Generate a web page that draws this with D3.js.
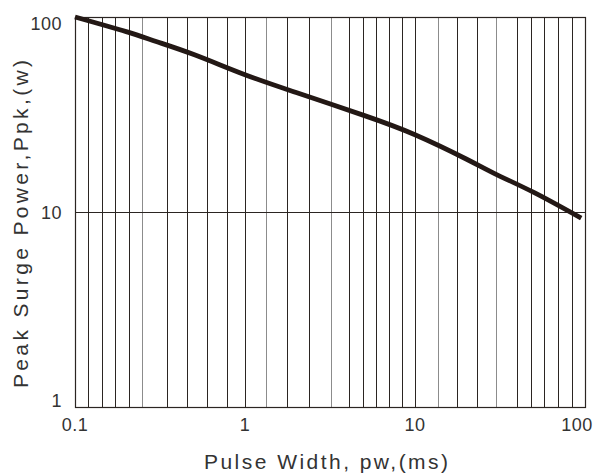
<!DOCTYPE html>
<html>
<head>
<meta charset="utf-8">
<script src="https://cdn.jsdelivr.net/npm/d3@7"></script>
<style>
body { margin: 0; background: #fff; }
text { font-family: "Liberation Sans", Arial, sans-serif; fill: #333; }
</style>
</head>
<body>
<div id="chart"></div>
<script>
// curve
var pulseWidth = [0.1, 0.2, 0.3, 0.5, 1, 2, 5, 10, 20, 30, 50, 95];
var peakPower = [100, 84.1, 74.9, 64.2, 50.6, 41, 31.3, 24.9, 18.7, 15.6, 12.6, 9.3];

// grid lines as drawn in the original (not a regular log grid)
var gridDark = [0.119, 0.144, 0.172, 0.207, 0.346, 0.454, 0.595, 0.78, 1, 1.77, 2.39,
    4.11, 4.93, 5.9, 7.03, 8.39, 10, 17.7, 23.1, 40, 48.1, 57.6, 69.7, 83.5];
var gridLight = [0.249, 1.33, 3.21, 13.6, 29.8];
var gridY = [10];

var xTicks = [0.1, 1, 10, 100];
var yTicks = [1, 10, 100];

var chartWidth = 594, chartHeight = 476;
var plotLeft = 75, plotRight = 585, plotTop = 17, plotBottom = 407;

var svg = d3.select("#chart").append("svg")
    .attr("width", chartWidth)
    .attr("height", chartHeight);

var x = d3.scaleLog().domain([0.1, 100]).range([plotLeft, plotRight]);
var y = d3.scaleLog().domain([1, 100]).range([plotBottom, plotTop]);

// vertical grid
svg.selectAll("line.gridDark")
    .data(gridDark).enter()
    .append("line")
    .attr("class", "gridDark")
    .attr("x1", (d) => Math.round(x(d)) + 0.5)
    .attr("x2", (d) => Math.round(x(d)) + 0.5)
    .attr("y1", plotTop)
    .attr("y2", plotBottom)
    .style("stroke", "#2b2522")
    .style("stroke-width", 1);
svg.selectAll("line.gridLight")
    .data(gridLight).enter()
    .append("line")
    .attr("class", "gridLight")
    .attr("x1", (d) => Math.round(x(d)) + 0.5)
    .attr("x2", (d) => Math.round(x(d)) + 0.5)
    .attr("y1", plotTop)
    .attr("y2", plotBottom)
    .style("stroke", "#8c8c8c")
    .style("stroke-width", 1);
// horizontal grid
svg.selectAll("line.gridY")
    .data(gridY).enter()
    .append("line")
    .attr("class", "gridY")
    .attr("x1", plotLeft)
    .attr("x2", plotRight)
    .attr("y1", (d) => Math.round(y(d)) + 0.5)
    .attr("y2", (d) => Math.round(y(d)) + 0.5)
    .style("stroke", "#2b2522")
    .style("stroke-width", 1);

// frame
svg.append("rect")
    .attr("x", plotLeft + 0.5)
    .attr("y", plotTop + 0.5)
    .attr("width", plotRight - plotLeft)
    .attr("height", plotBottom - plotTop)
    .style("fill", "none")
    .style("stroke", "#2b2522")
    .style("stroke-width", 1.2);

// curve
var line = d3.line()
    .x((d, i) => x(pulseWidth[i]))
    .y((d) => y(d))
    .curve(d3.curveNatural);
svg.append("path")
    .attr("d", line(peakPower))
    .style("fill", "none")
    .style("stroke", "#231815")
    .style("stroke-width", 4.8)
    .style("stroke-linecap", "butt");

// tick labels
svg.selectAll("text.xtick")
    .data(xTicks).enter()
    .append("text")
    .attr("class", "xtick")
    .text((d) => d)
    .attr("text-anchor", "middle")
    .attr("x", (d) => Math.min(x(d), chartWidth - 17))
    .attr("y", 431)
    .style("font-size", "18px")
    .style("letter-spacing", "0.5px");
svg.selectAll("text.ytick")
    .data(yTicks).enter()
    .append("text")
    .attr("class", "ytick")
    .text((d) => d)
    .attr("text-anchor", "end")
    .attr("x", 62)
    .attr("y", (d) => Math.min(Math.max(y(d), plotTop + 6), plotBottom - 7) + 6.5)
    .style("font-size", "18px")
    .style("letter-spacing", "0.5px");

// axis titles
svg.append("text")
    .text("Pulse Width, pw,(ms)")
    .attr("x", 204)
    .attr("y", 469)
    .attr("textLength", 244)
    .attr("lengthAdjust", "spacing")
    .style("font-size", "21px");
svg.append("text")
    .text("Peak Surge Power,Ppk,(w)")
    .attr("transform", "translate(27.5,388) rotate(-90)")
    .attr("textLength", 328)
    .attr("lengthAdjust", "spacing")
    .style("font-size", "21px");
</script>
</body>
</html>
